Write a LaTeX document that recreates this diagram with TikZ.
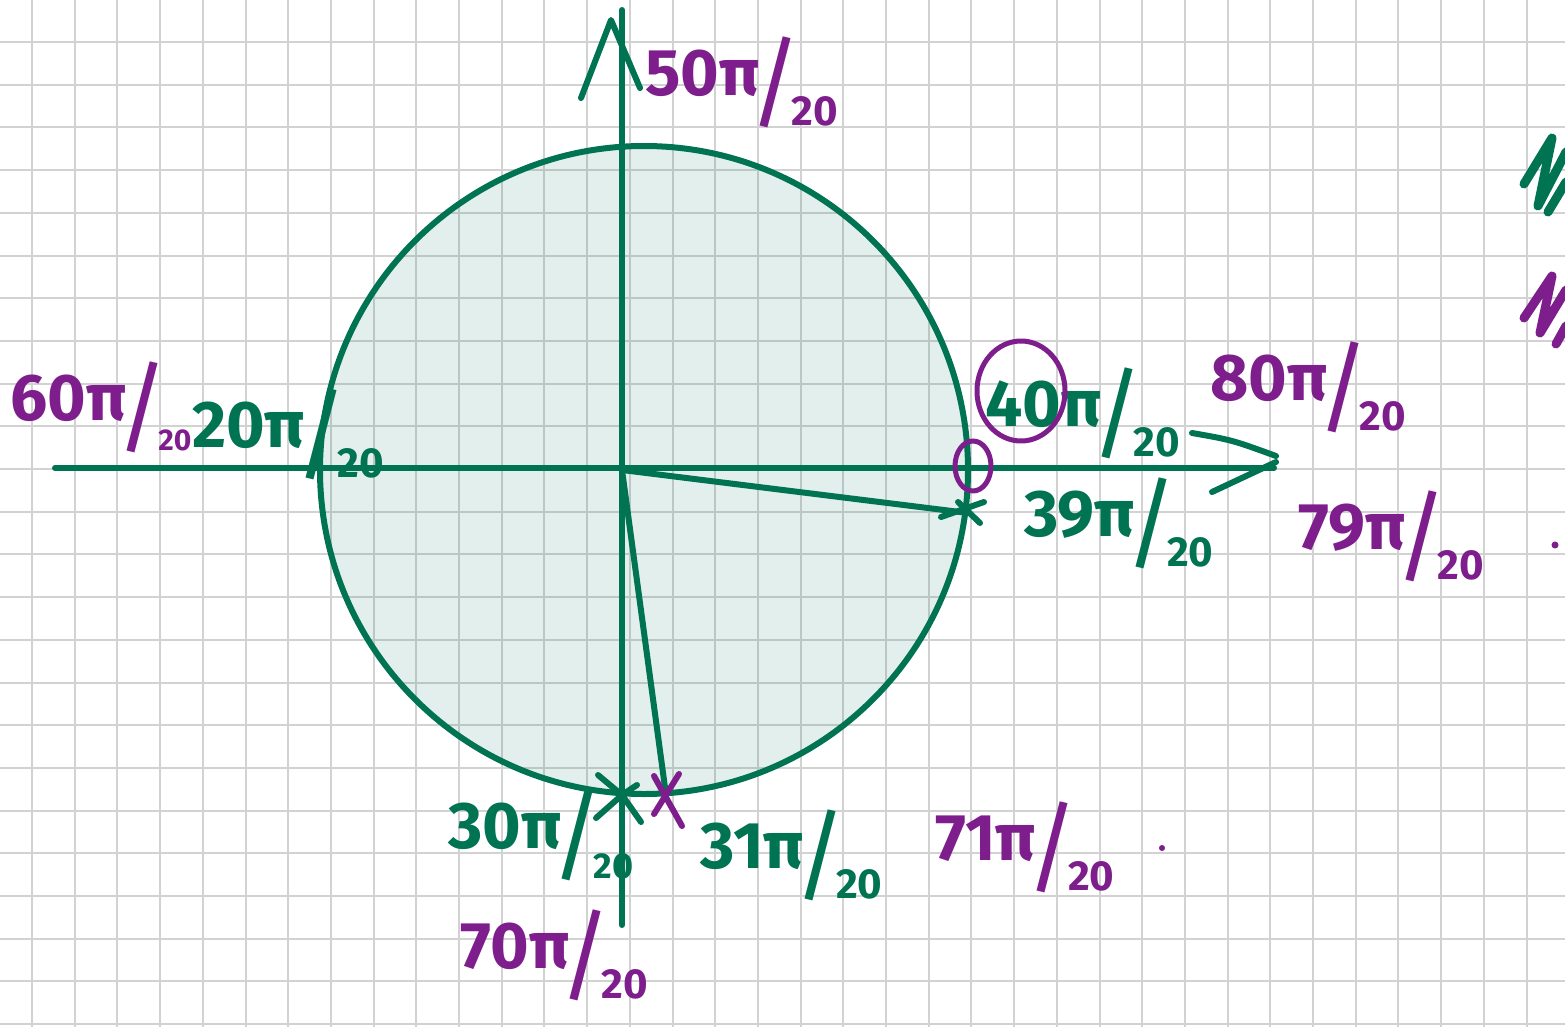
\documentclass[tikz,border=0pt]{standalone}
\usepackage{fontspec}
\setmainfont{Fira Sans}
\usetikzlibrary{positioning}
\definecolor{inkGreen}{HTML}{007352}
\definecolor{inkPurple}{HTML}{7E1E8C}
\definecolor{gridGray}{HTML}{D2D2D2}
\newcommand{\numsize}{\fontsize{66}{66}\selectfont}
\newcommand{\slashsize}{\fontsize{100}{100}\selectfont\mdseries}
\newcommand{\pifrac}[2][42]{{\numsize #2π}\kern-10pt\raisebox{-22pt}{\slashsize /}\kern-10pt\raisebox{-30pt}{\fontsize{#1}{#1}\selectfont 20}}
\begin{document}
\begin{tikzpicture}[x=1pt,y=-1pt,
    gridline/.style={draw=gridGray,line width=2pt},
    ink/.style={line width=6pt,line cap=round,line join=round},
    greenink/.style={ink,draw=inkGreen},
    purpleink/.style={ink,draw=inkPurple},
    lbl/.style={inner sep=0pt,anchor=base west,font=\bfseries},
    greenlbl/.style={lbl,text=inkGreen},
    purplelbl/.style={lbl,text=inkPurple}]
  \useasboundingbox (0,0) rectangle (1565,1027);
  \fill[white] (0,0) rectangle (1565,1027);
  % squared paper
  \foreach \gx in {0,...,35}
    \draw[gridline] ({32+42.7*\gx},0) -- ++(0,1027);
  \foreach \gy in {0,...,23}
    \draw[gridline] (0,{42+42.7*\gy}) -- ++(1565,0);
  % unit circle
  \coordinate (C) at (644,470);
  \fill[inkGreen,fill opacity=0.11] (C) circle (324);
  \draw[greenink] (C) circle (324);
  % axes
  \coordinate (O) at (622,470);
  \coordinate (xL) at (55,468);
  \coordinate (xR) at (1274,468);
  \coordinate (yT) at (622,10);
  \coordinate (yB) at (622,925);
  \draw[greenink] (xL) -- (xR);
  \draw[greenink] (yB) -- (yT);
  \draw[greenink] (1192,433) .. controls (1232,440) .. (1276,456);
  \draw[greenink] (1276,462) -- (1212,492);
  \draw[greenink] (581,98) -- (611,20) -- (640,88);
  % the two angles
  \coordinate (P39) at (968,513);
  \coordinate (P31) at (666,795);
  \coordinate (P30) at (622,795);
  \draw[greenink] (O) -- (P39);
  \draw[greenink] (O) -- (P31);
  \draw[greenink] (941,517) -- (984,502);
  \draw[greenink] (958,502) -- (980,523);
  \draw[greenink] (598,775) -- (P30) -- (641,822);
  \draw[greenink] (637,785) -- (P30) -- (596,818);
  \draw[purpleink] (654,776) -- (682,826);
  \draw[purpleink] (679,774) -- (654,814);
  % labels
  \node[purplelbl] (l50) at (645,96) {\pifrac{50}};
  \node[purplelbl] (l60) at (10,420) {\pifrac[30]{60}};
  \node[greenlbl] (l20) at (192,447) {\pifrac{20}};
  \node[greenlbl] (l40) at (985,426) {\pifrac{40}};
  \node[purplelbl] (l80) at (1210,400) {\pifrac{80}};
  \node[greenlbl] (l39) at (1024,536) {\pifrac{39}};
  \node[purplelbl] (l79) at (1298,549) {\pifrac{79}};
  \node[greenlbl] (l30) at (448,848) {\pifrac[36]{30}};
  \node[greenlbl] (l31) at (700,868) {\pifrac{31}};
  \node[purplelbl] (l71) at (935,860) {\pifrac{71}};
  \node[purplelbl] (l70) at (460,968) {\pifrac{70}};
  % purple loops and dots
  \draw[purpleink,line width=5pt] (1021,391) ellipse (44 and 50);
  \draw[purpleink,line width=5pt] (973,466) ellipse (18 and 25);
  \fill[inkPurple] (1555,545) circle (3.5);
  \fill[inkPurple] (1162,848) circle (3);
  % scribbles at the right edge
  \draw[greenink,line width=9pt] (1524,184) -- (1552,138) -- (1538,206) -- (1566,152);
  \draw[greenink,line width=9pt] (1548,212) -- (1566,182);
  \draw[purpleink,line width=9pt] (1524,318) -- (1552,276) -- (1540,333) -- (1566,290);
  \draw[purpleink,line width=9pt] (1556,344) -- (1566,326);
\end{tikzpicture}
\end{document}
